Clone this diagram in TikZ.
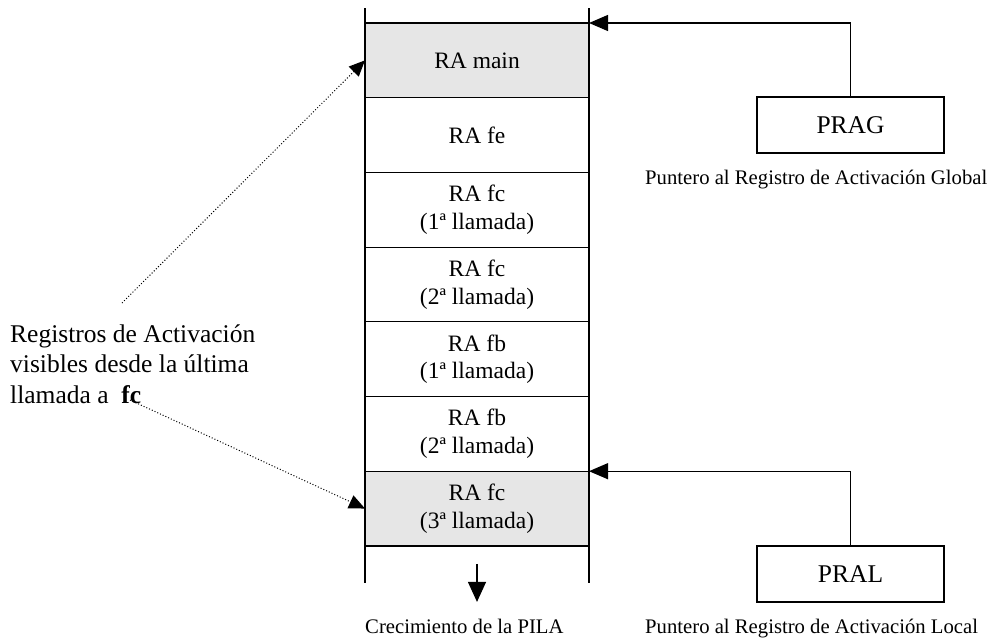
\documentclass[tikz,border=0pt]{standalone}
\usepackage{fontspec}
\setmainfont{Liberation Serif}
\usetikzlibrary{positioning,arrows.meta}
\definecolor{col}{HTML}{E6E6E6}
\tikzstyle{ra} = [draw=black, line width=1.2pt, rectangle, outer sep=0pt,
    inner sep=0pt, minimum width=224pt, minimum height=74.7pt, align=center,
    font=\fontsize{23.5}{27.6}\selectfont]
\tikzstyle{raon} = [ra, fill=col]
\tikzstyle{nxt} = [below=0pt of #1]
\tikzstyle{ptr} = [draw=black, line width=1.2pt, rectangle, outer sep=0pt,
    minimum width=187pt, minimum height=56pt,
    font=\fontsize{25.5}{29}\selectfont]
\tikzstyle{leyenda} = [font=\fontsize{20.7}{24}\selectfont, inner sep=0pt,
    anchor=west]
\tikzstyle{wall} = [line width=1.2pt]
\tikzstyle{pto} = [line width=1.2pt, -{Triangle[length=19pt,width=16pt]}]
\tikzstyle{vis} = [line width=1pt, dotted, -{Triangle[length=16pt,width=14pt]}]
\newcommand{\pointer}[5]{
  \node[ptr] (#1) at (#2) {#3};
  \draw[pto] (#1.north) |- (#4.north east);
  \node[leyenda] (#1cap) at ([xshift=-205.5pt, yshift=-27pt]#1.south) {#5};
}

\begin{document}
\begin{tikzpicture}[x=1pt, y=-1pt]
\useasboundingbox (0,0) rectangle (992,639);

\node[raon] (ramain) at (477,60.35) {RA main};
\node[ra, nxt=ramain] (rafe) {RA fe};
\node[ra, nxt=rafe] (rafc1) {RA fc\\(1ª llamada)};
\node[ra, nxt=rafc1] (rafc2) {RA fc\\(2ª llamada)};
\node[ra, nxt=rafc2] (rafb1) {RA fb\\(1ª llamada)};
\node[ra, nxt=rafb1] (rafb2) {RA fb\\(2ª llamada)};
\node[raon, nxt=rafb2] (rafc3) {RA fc\\(3ª llamada)};

\draw[wall] (ramain.north west) -- ++(0,-15);
\draw[wall] (ramain.north east) -- ++(0,-15);
\draw[wall] (rafc3.south west) -- ++(0,37);
\draw[wall] (rafc3.south east) -- ++(0,37);

\coordinate (grow) at ([yshift=-18pt]rafc3.south);
\coordinate (growend) at ([yshift=-56pt]rafc3.south);
\draw[line width=1.2pt, -{Triangle[length=20pt,width=18pt]}] (grow) -- (growend);
\node[leyenda] (crec) at ([yshift=-81pt]rafc3.south west) {Crecimiento de la PILA};

\pointer{prag}{850.5,125}{PRAG}{ramain}{Puntero al Registro de Activación Global}
\pointer{pral}{850.5,574}{PRAL}{rafc3}{Puntero al Registro de Activación Local}

% registros visibles
\node[font=\fontsize{25.5}{30.5}\selectfont, align=left, inner sep=0pt,
    anchor=west] (visibles) at (10,364)
    {Registros de Activación\\visibles desde la última\\llamada a\ \ \textbf{fc}};
\coordinate (v1) at (122,303);
\coordinate (v2) at (130,400);
\draw[vis] (v1) -- (ramain.west);
\draw[vis] (v2) -- (rafc3.west);

\end{tikzpicture}
\end{document}
